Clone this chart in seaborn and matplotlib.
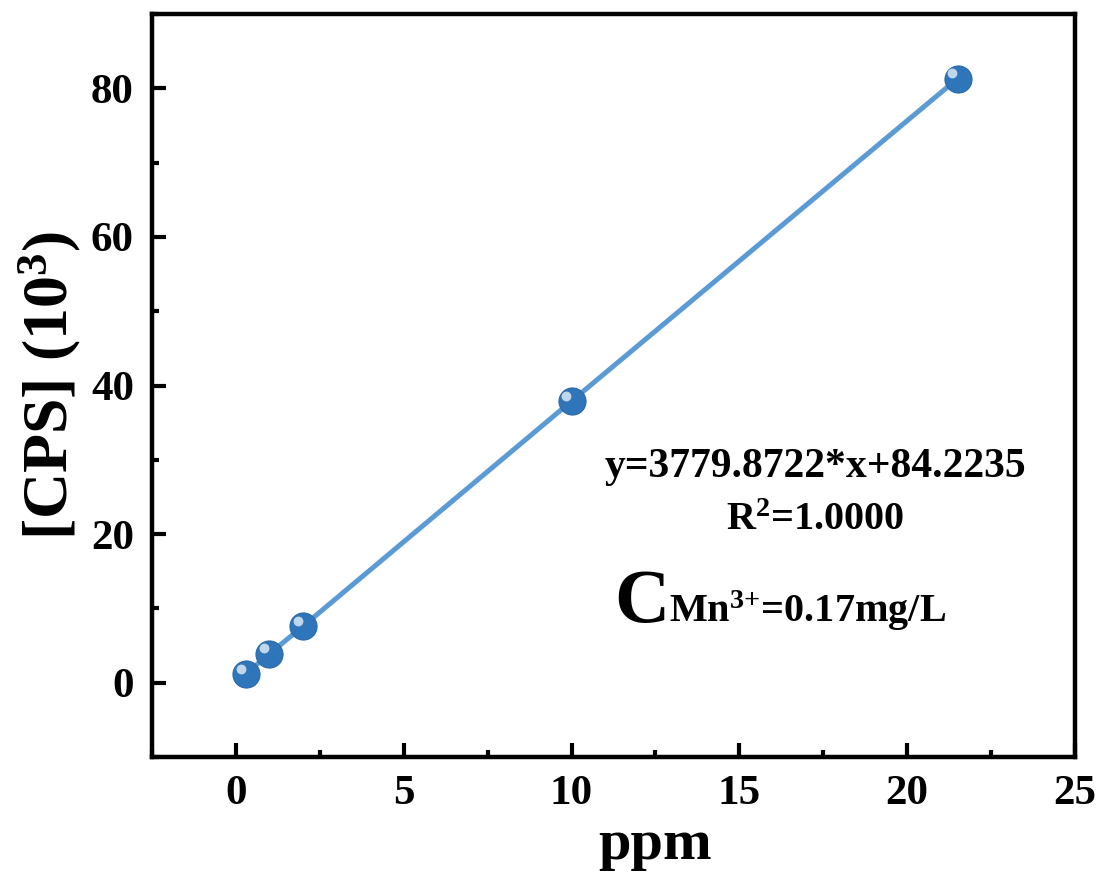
import matplotlib
matplotlib.use("Agg")
import matplotlib.pyplot as plt
import matplotlib.transforms as mtransforms
import seaborn as sns
import pandas as pd
import numpy as np
from matplotlib.ticker import MultipleLocator

# ---- data ----
ppm = [0.3, 1.0, 2.0, 10.0, 21.5]
cps = [1.2, 3.9, 7.6, 37.9, 81.3]
eq_text = "y=3779.8722*x+84.2235"
r2_text = "R$^{2}$=1.0000"
c_big = "C"
c_rest = "Mn$^{\\text{3+}}$=0.17mg/L"
xlabel = "ppm"
ylabel = "[CPS] (10$^{3}$)"

sns.set_theme(style="white")
plt.rcParams['font.family'] = ['Liberation Serif', 'DejaVu Serif']
plt.rcParams['font.weight'] = 'bold'
plt.rcParams['mathtext.fontset'] = 'custom'
plt.rcParams['mathtext.rm'] = 'Liberation Serif:bold'
plt.rcParams['mathtext.it'] = 'Liberation Serif:bold'
plt.rcParams['mathtext.bf'] = 'Liberation Serif:bold'
plt.rcParams['mathtext.default'] = 'regular'
plt.rcParams['text.color'] = 'black'
plt.rcParams['axes.labelcolor'] = 'black'
plt.rcParams['xtick.color'] = 'black'
plt.rcParams['ytick.color'] = 'black'

df = pd.DataFrame({"ppm": ppm, "cps": cps})

fig = plt.figure(figsize=(11.01, 8.74), dpi=100)
ax = fig.add_axes([152/1101, 1-757/874, (1075-152)/1101, (757-14)/874])

sns.lineplot(data=df, x="ppm", y="cps", ax=ax, color="#5b9bd5", linewidth=3.6, zorder=2)
sns.scatterplot(data=df, x="ppm", y="cps", ax=ax, color="#2f75b9", s=380,
                edgecolor="#2a6aa8", linewidth=0.8, zorder=3)
# highlight on spheres
off = mtransforms.offset_copy(ax.transData, fig=fig, x=-3.8, y=3.8, units='points')
ax.scatter(df["ppm"], df["cps"], s=50, color="#d9e8f7", alpha=0.85, linewidth=0,
           transform=off, zorder=4)

ax.set_xlim(-2.5, 25)
ax.set_ylim(-10, 90)
ax.xaxis.set_major_locator(MultipleLocator(5))
ax.xaxis.set_minor_locator(MultipleLocator(2.5))
ax.yaxis.set_major_locator(MultipleLocator(20))
ax.yaxis.set_minor_locator(MultipleLocator(10))

for s in ax.spines.values():
    s.set_linewidth(3.2)
    s.set_color("black")

ax.tick_params(axis='both', which='major', direction='in', length=10, width=3,
               labelsize=31, pad=13, color='black', labelcolor='black',
               bottom=True, left=True, top=False, right=False)
ax.tick_params(axis='both', which='minor', direction='in', length=5, width=3,
               color='black', bottom=True, left=True, top=False, right=False)
for lab in ax.get_xticklabels() + ax.get_yticklabels():
    lab.set_fontweight('bold')

ax.set_xlabel(xlabel, fontsize=42, fontweight='bold', labelpad=0)
ax.set_ylabel(ylabel, fontsize=46, fontweight='bold', labelpad=6)
ax.xaxis.set_label_coords((655-152)/923, -0.083)

ax.text(17.27, 27.7, eq_text, fontsize=30, fontweight='bold', ha='center', va='baseline')
ax.text(17.27, 20.6, r2_text, fontsize=29, fontweight='bold', ha='center', va='baseline')
ct = ax.text(11.27, 8.2, c_big, fontsize=55, fontweight='bold', ha='left', va='baseline')
ax.annotate(c_rest, xy=(1, 8.2), xycoords=(ct, 'data'), fontsize=29, fontweight='bold',
            ha='left', va='baseline')

fig.savefig("out.png", dpi=100)
